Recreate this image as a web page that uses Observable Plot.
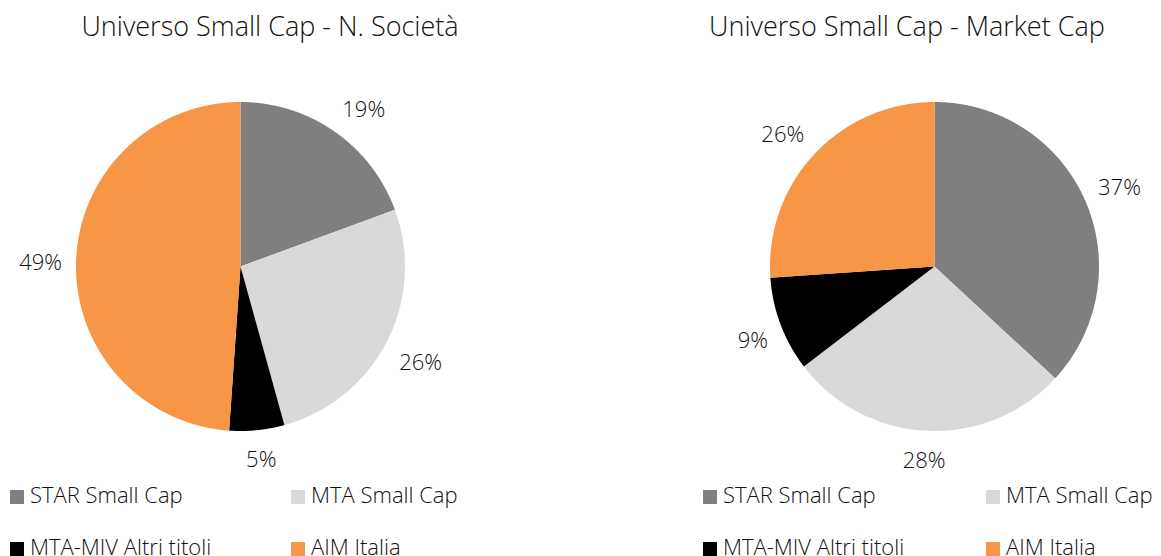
<!DOCTYPE html>
<html>
<head>
<meta charset="utf-8">
<script src="https://cdn.jsdelivr.net/npm/d3@7"></script>
<script src="https://cdn.jsdelivr.net/npm/@observablehq/plot@0.6"></script>
<style>
  html, body { margin: 0; padding: 0; background: #fff; }
  body { width: 1161px; height: 556px; position: relative; overflow: hidden;
         font-family: "Open Sans", Lato, sans-serif; font-weight: 300; color: #111; }
  .title { position: absolute; top: 7px; width: 600px; text-align: center; font-size: 27px; white-space: nowrap; }
  .plot { position: absolute; top: 46px; }
  .legend-item { position: absolute; font-size: 22px; white-space: nowrap; line-height: 24px; }
  .legend-item .sw { display: inline-block; width: 14px; height: 14px; margin-right: 6px; vertical-align: -1px; }
</style>
</head>
<body>
<script>
// ---- data ----
const categories = ["STAR Small Cap", "MTA Small Cap", "MTA-MIV Altri titoli", "AIM Italia"];
const colors = ["#7f7f7f", "#d9d9d9", "#000000", "#f79646"];
const societaValues = [19.4, 26.3, 5.4, 48.9];
const marketCapValues = [36.9, 27.7, 9.3, 26.1];
const chartTitles = ["Universo Small Cap - N. Società", "Universo Small Cap - Market Cap"];

// ---- layout ----
const panels = [
  {values: societaValues, title: chartTitles[0], plotLeft: 0, titleCenter: 270, legendLeft: [10, 291]},
  {values: marketCapValues, title: chartTitles[1], plotLeft: 694, titleCenter: 907, legendLeft: [703, 986]}
];
const W = 480, H = 440, R = 164.5;
const fontSize = 22;

function pie(values) {
  const arcs = d3.pie().sort(null).value(d => d)(values);
  const total = d3.sum(values);
  const polys = [];
  const labels = [];
  arcs.forEach((a, i) => {
    const cat = categories[i];
    polys.push({x: 0, y: 0, cat});
    const n = Math.max(2, Math.ceil((a.endAngle - a.startAngle) / 0.004));
    for (let k = 0; k <= n; k++) {
      const t = a.startAngle + (a.endAngle - a.startAngle) * k / n;
      polys.push({x: Math.sin(t), y: Math.cos(t), cat});
    }
    polys.push({x: 0, y: 0, cat});
    const mid = (a.startAngle + a.endAngle) / 2;
    const dx = Math.sin(mid), dy = Math.cos(mid);
    const text = Math.round(a.value / total * 100) + "%";
    const hw = (text.length * 0.62 * fontSize) / 2 / R;
    const hh = 12 / R;
    const gap = 1 + 15 / R;
    const clamp = v => Math.max(-1, Math.min(1, v / 0.5));
    labels.push({x: dx * gap + hw * clamp(dx), y: dy * gap + hh * clamp(dy), text});
  });
  return {polys, labels};
}

panels.forEach(p => {
  const {polys, labels} = pie(p.values);
  const chart = Plot.plot({
    width: W, height: H, margin: 0,
    x: {domain: [-W / 2 / R, W / 2 / R], axis: null},
    y: {domain: [-H / 2 / R, H / 2 / R], axis: null},
    color: {domain: categories, range: colors},
    style: {fontFamily: '"Open Sans", Lato, sans-serif', fontWeight: 300, color: "#111", background: "transparent"},
    marks: [
      Plot.line(polys, {x: "x", y: "y", z: "cat", fill: "cat", stroke: null, curve: "linear"}),
      Plot.text(labels, {x: "x", y: "y", text: "text", fontSize, fill: "#111", dy: 3})
    ]
  });
  chart.classList.add("plot");
  chart.style.left = p.plotLeft + "px";
  document.body.appendChild(chart);

  const t = document.createElement("div");
  t.className = "title";
  t.textContent = p.title;
  t.style.left = (p.titleCenter - 300) + "px";
  document.body.appendChild(t);

  categories.forEach((c, i) => {
    const it = document.createElement("div");
    it.className = "legend-item";
    it.style.left = p.legendLeft[i % 2] + "px";
    it.style.top = (482 + Math.floor(i / 2) * 52) + "px";
    it.innerHTML = `<span class="sw" style="background:${colors[i]}"></span>${c}`;
    document.body.appendChild(it);
  });
});
</script>
</body>
</html>
